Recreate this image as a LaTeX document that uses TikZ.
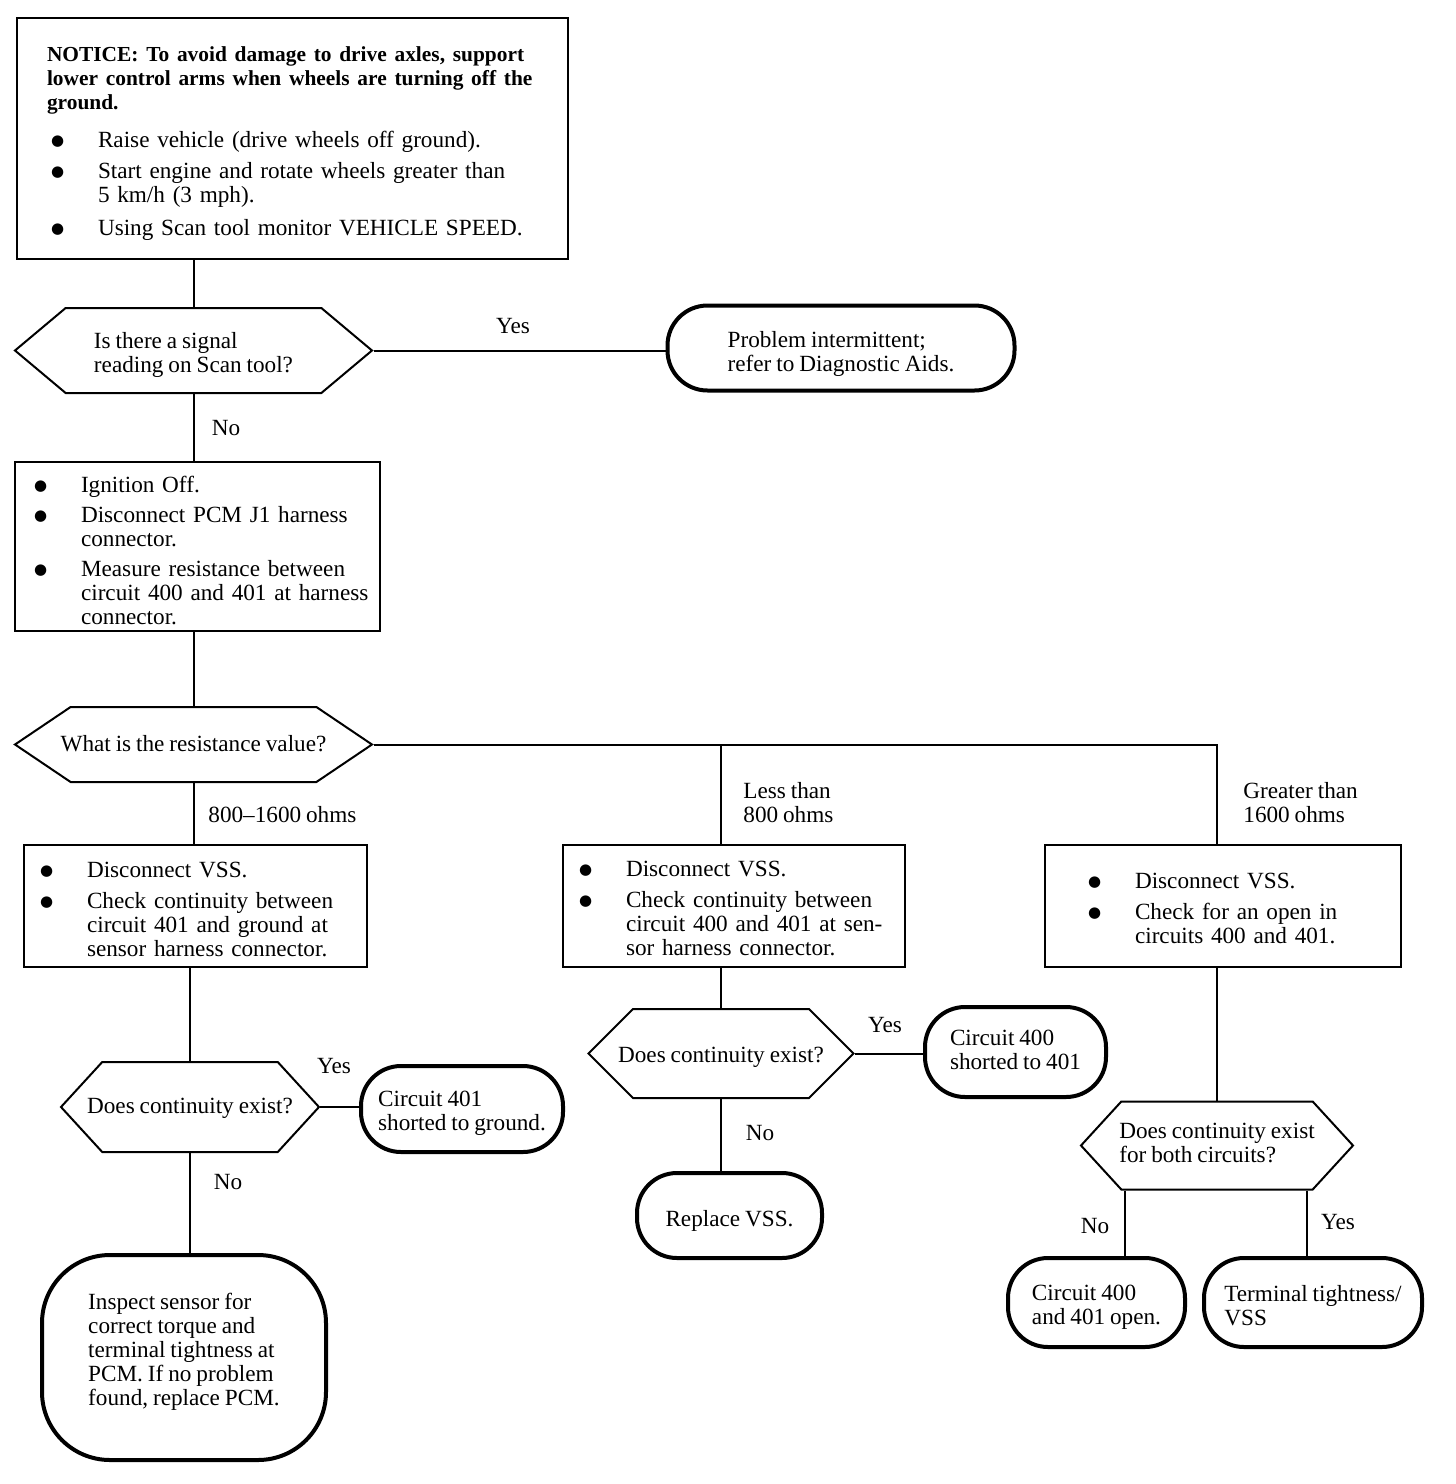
\documentclass[tikz,border=0pt]{standalone}
\usepackage{fontspec}
\setmainfont{Liberation Serif}[WordSpace=0.85]
\newfontfamily\symfont{DejaVu Sans}
\usetikzlibrary{shapes.symbols,positioning}
\newcommand{\bodyfont}{\fontsize{11.6}{12}\selectfont}
\newcommand{\noticefont}{\bfseries\fontsize{10.7}{12}\selectfont}
\newcommand{\bdot}{\makebox[23.5pt][l]{\raisebox{0.8pt}{\symfont\fontsize{7.5}{12}\selectfont ●}}}
\newcommand{\lowered}[2][2.5pt]{\raisebox{-#1}[\height][\depth]{#2}}
\newcommand{\cardtext}[2][2.5pt]{\lowered[#1]{\begin{tabular}{@{}l@{}}#2\end{tabular}}}

\begin{document}
\begin{tikzpicture}[x=0.5pt, y=-0.5pt,
  every node/.style={font=\bodyfont},
  stepbox/.style={draw, line width=1pt, rectangle, align=left, inner ysep=0pt},
  decision/.style={draw, line width=1pt, shape=signal, signal to=east and west, inner xsep=-20pt, inner ysep=0pt},
  finish/.style={draw, line width=2pt, rectangle, rounded corners=20pt, inner sep=0pt},
  link/.style={line width=1pt},
  answer/.style={inner sep=0pt}]

\useasboundingbox (0,0) rectangle (1456,1484);

% ---- START ----
\node[stepbox, minimum width=275.5pt, minimum height=120.5pt, inner xsep=15pt, text width=245.5pt] (notice) at (292.5,138.5)
 {\lowered{\begin{tabular}{@{}l@{}l@{}}
  \multicolumn{2}{@{}l@{}}{\noticefont NOTICE: To avoid damage to drive axles, support}\\
  \multicolumn{2}{@{}l@{}}{\noticefont lower control arms when wheels are turning off the}\\
  \multicolumn{2}{@{}l@{}}{\noticefont ground.}\\[7pt]
  \hspace*{2pt}\bdot & Raise vehicle (drive wheels off ground).\\[3.5pt]
  \hspace*{2pt}\bdot & Start engine and rotate wheels greater than\\
   & 5 km/h (3 mph).\\[4.5pt]
  \hspace*{2pt}\bdot & Using Scan tool monitor VEHICLE SPEED.
 \end{tabular}}};

\node[decision, signal pointer angle=80, minimum width=178.5pt, minimum height=42.5pt] (hex1) at (193.5,350.5)
 {\cardtext{Is there a signal\\reading on Scan tool?}};
\node[finish, minimum width=173.5pt, minimum height=42.5pt] (t1) at (841,348)
 {\cardtext[3.5pt]{Problem intermittent;\\refer to Diagnostic Aids.}};

% ---- RESISTANCE CHECK ----
\node[stepbox, minimum width=182.5pt, minimum height=84.5pt, inner xsep=9.5pt, text width=163.5pt] (check1) at (197.5,546.5)
 {\lowered[3.5pt]{\begin{tabular}{@{}l@{}l@{}}
  \bdot & Ignition Off.\\[3pt]
  \bdot & Disconnect PCM J1 harness\\
   & connector.\\[3pt]
  \bdot & Measure resistance between\\
   & circuit 400 and 401 at harness\\
   & connector.
 \end{tabular}}};

\node[decision, signal pointer angle=68, minimum width=178.5pt, minimum height=37.5pt] (hex2) at (193.5,744.5)
 {\cardtext[1pt]{What is the resistance value?}};

% ---- THREE BRANCHES ----
\node[stepbox, minimum width=171.5pt, minimum height=61pt, inner xsep=8pt, text width=155.5pt] (box3) at (195.5,906)
 {\lowered[3pt]{\begin{tabular}{@{}l@{}l@{}}
  \bdot & Disconnect VSS.\\[3.5pt]
  \bdot & Check continuity between\\
   & circuit 401 and ground at\\
   & sensor harness connector.
 \end{tabular}}};
\node[stepbox, minimum width=171pt, minimum height=61pt, inner xsep=8pt, text width=155pt] (box4) at (734,906)
 {\lowered{\begin{tabular}{@{}l@{}l@{}}
  \bdot & Disconnect VSS.\\[3.5pt]
  \bdot & Check continuity between\\
   & circuit 400 and 401 at sen-\\
   & sor harness connector.
 \end{tabular}}};
\node[stepbox, minimum width=178pt, minimum height=61pt, inner xsep=21.5pt, text width=135pt] (box5) at (1223,906)
 {\lowered{\begin{tabular}{@{}l@{}l@{}}
  \bdot & Disconnect VSS.\\[3.5pt]
  \bdot & Check for an open in\\
   & circuits 400 and 401.
 \end{tabular}}};

\node[decision, signal pointer angle=95, minimum width=129pt, minimum height=45pt] (hex3) at (190,1107)
 {\cardtext[1pt]{Does continuity exist?}};
\node[finish, minimum width=101pt, minimum height=43pt] (t401g) at (462,1109)
 {\cardtext{Circuit 401\\shorted to ground.}};
\node[finish, rounded corners=34pt, minimum width=142pt, minimum height=102.5pt] (tpcm) at (184,1357.5)
 {\cardtext[-2.5pt]{Inspect sensor for\\correct torque and\\terminal tightness at\\PCM. If no problem\\found, replace PCM.}};

\node[decision, signal pointer angle=90, minimum width=132.5pt, minimum height=44.5pt] (hex4) at (721,1053.5)
 {\cardtext[2pt]{Does continuity exist?}};
\node[finish, minimum width=90.5pt, minimum height=45pt] (t400s) at (1015.5,1052)
 {\cardtext[0.5pt]{Circuit 400\\shorted to 401}};
\node[finish, minimum width=92.5pt, minimum height=42.5pt] (tvss) at (729.5,1215.5)
 {\cardtext[3pt]{Replace VSS.}};

\node[decision, signal pointer angle=95, minimum width=136pt, minimum height=44pt] (hex5) at (1217,1145.5)
 {\cardtext[0pt]{Does continuity exist\\for both circuits?}};
\node[finish, minimum width=88.5pt, minimum height=44.5pt] (topen) at (1096.5,1302.5)
 {\cardtext{Circuit 400\\and 401 open.}};
\node[finish, minimum width=109pt, minimum height=44.5pt] (ttight) at (1313,1302.5)
 {\cardtext[3pt]{Terminal tightness/\\VSS}};

% ---- CONNECTORS ----
\draw[link] (hex1.north |- notice.south) -- (hex1.north);
\draw[link] (hex1.east) -- (hex1.east -| t1.west);
\draw[link] (hex1.south) -- (hex1.south |- check1.north);
\draw[link] (hex2.north |- check1.south) -- (hex2.north);
\draw[link] (hex2.south) -- (hex2.south |- box3.north);
\draw[link] (hex2.east) -| (hex5.north |- box5.north);
\draw[link] (hex4.north |- hex2.east) -- (hex4.north |- box4.north);
\draw[link] (hex3.north |- box3.south) -- (hex3.north);
\draw[link] (hex4.north |- box4.south) -- (hex4.north);
\draw[link] (hex5.north |- box5.south) -- (hex5.north);
\draw[link] (hex3.east) -- (hex3.east -| t401g.west);
\draw[link] (hex3.south) -- (hex3.south |- tpcm.north);
\draw[link] (hex4.east) -- (hex4.east -| t400s.west);
\draw[link] (hex4.south) -- (hex4.south |- tvss.north);
\coordinate (h5no) at ([xshift=-46pt]hex5.south);
\coordinate (h5yes) at ([xshift=45pt]hex5.south);
\draw[link] (h5no) -- (h5no |- topen.north);
\draw[link] (h5yes) -- (h5yes |- ttight.north);

% ---- ANSWERS ----
\node[answer] (yes1) at (513,326) {Yes};
\node[answer] (no1) at (226,428) {No};
\node[answer, anchor=west] (ohms1) at (208,815) {800–1600 ohms};
\node[answer, align=left, anchor=west] (ohms2) at (743,803) {Less than\\800 ohms};
\node[answer, align=left, anchor=west] (ohms3) at (1243,803) {Greater than\\1600 ohms};
\node[answer] (yes2) at (334,1066) {Yes};
\node[answer] (no2) at (228,1182) {No};
\node[answer] (yes3) at (885,1025) {Yes};
\node[answer] (no3) at (760,1133) {No};
\node[answer] (no4) at (1095,1226) {No};
\node[answer] (yes4) at (1338,1222) {Yes};

\end{tikzpicture}
\end{document}
